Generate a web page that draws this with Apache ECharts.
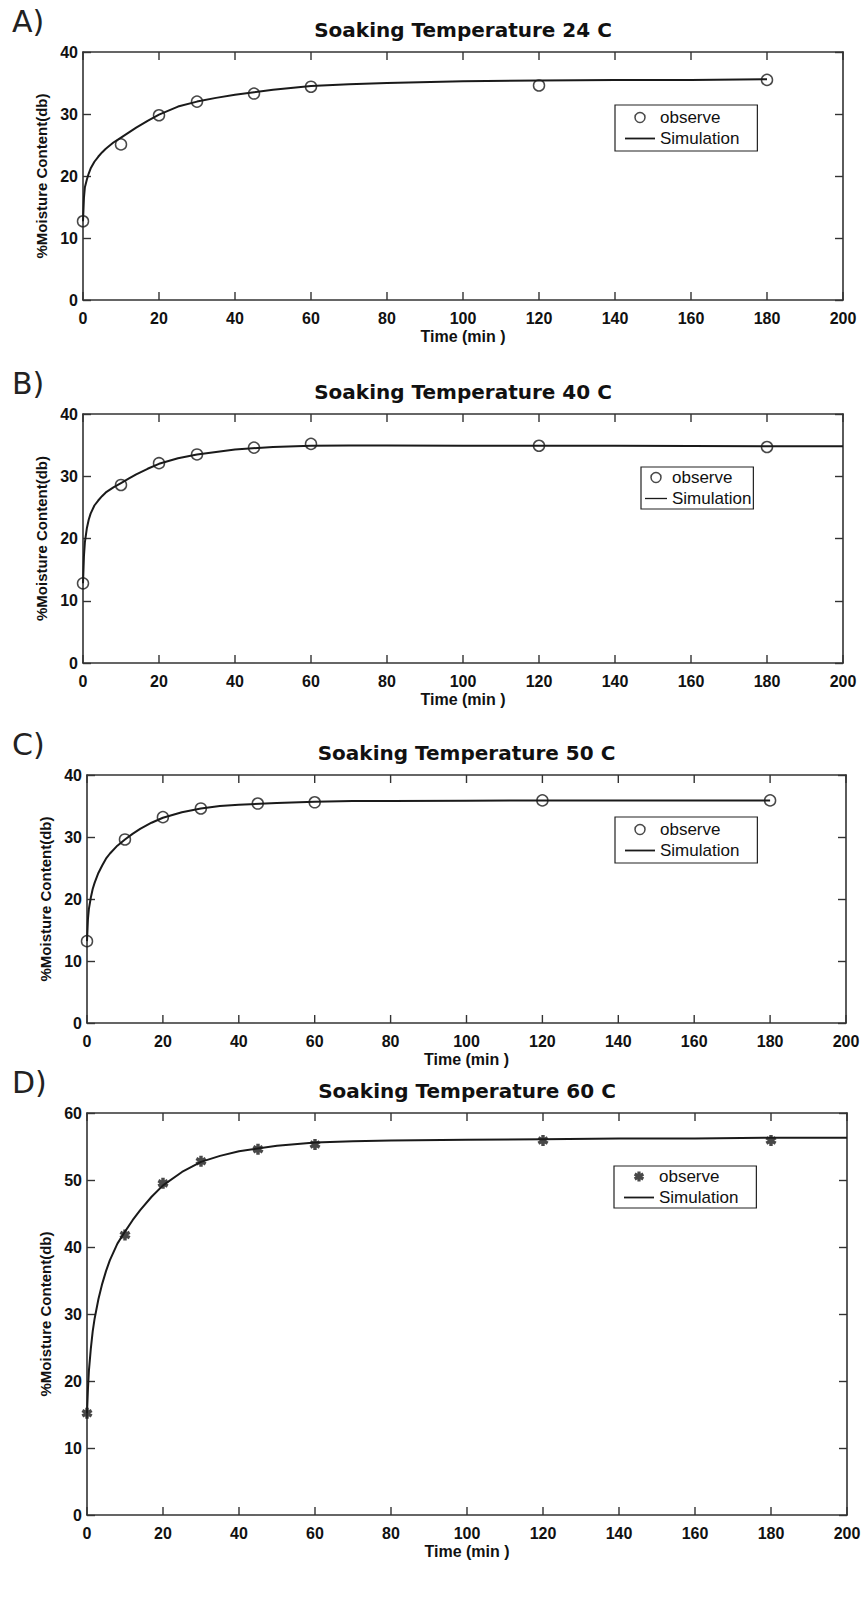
<!DOCTYPE html>
<html>
<head>
<meta charset="utf-8">
<title>Soaking Temperature</title>
<script src="https://cdn.jsdelivr.net/npm/echarts@6/dist/echarts.min.js"></script>
<style>
  html, body { margin: 0; padding: 0; background: #fff; }
  #main { width: 865px; height: 1623px; }
</style>
</head>
<body>
<div id="main"></div>
<script>
// observed points (same sampling times for all four panels)
var timeObs = [0, 10, 20, 30, 45, 60, 120, 180];
var obsA = [12.7, 25.1, 29.8, 32.0, 33.3, 34.4, 34.6, 35.5];
var obsB = [12.8, 28.6, 32.1, 33.5, 34.6, 35.2, 34.9, 34.7];
var obsC = [13.2, 29.6, 33.2, 34.6, 35.4, 35.6, 35.9, 35.9];
var obsD = [15.2, 41.8, 49.5, 52.8, 54.6, 55.3, 55.9, 55.9];

// simulation curves
var simTimeA = [0, 0.25, 0.5, 1, 1.5, 2, 3, 4, 5, 6, 8, 10, 12, 14, 17, 20, 25, 30, 35, 40, 50, 60, 70, 80, 100, 120, 140, 160, 180];
var simA = [12.7, 16.5, 18.2, 19.4, 20.4, 21.2, 22.3, 23.1, 23.8, 24.4, 25.4, 26.2, 27.0, 27.8, 28.9, 29.9, 31.2, 32.0, 32.6, 33.1, 33.9, 34.5, 34.8, 35.0, 35.3, 35.4, 35.5, 35.5, 35.6];
var simTimeB = [0, 0.25, 0.5, 1, 1.5, 2, 3, 4, 5, 6, 8, 10, 12, 14, 17, 20, 25, 30, 35, 40, 50, 60, 70, 80, 100, 120, 140, 160, 180, 200];
var simB = [12.8, 17.2, 19.4, 21.6, 23.0, 24.0, 25.3, 26.1, 26.8, 27.4, 28.2, 28.9, 29.6, 30.3, 31.2, 32.0, 32.9, 33.5, 33.9, 34.3, 34.7, 34.9, 34.95, 34.95, 34.9, 34.9, 34.9, 34.85, 34.8, 34.8];
var simTimeC = [0, 0.25, 0.5, 1, 1.5, 2, 3, 4, 5, 6, 8, 10, 12, 14, 17, 20, 25, 30, 35, 40, 50, 60, 70, 80, 100, 120, 140, 160, 180];
var simC = [13.2, 16.8, 18.4, 20.2, 21.6, 22.6, 24.2, 25.4, 26.5, 27.3, 28.6, 29.6, 30.5, 31.3, 32.3, 33.1, 34.0, 34.6, 35.0, 35.2, 35.5, 35.7, 35.8, 35.8, 35.85, 35.9, 35.9, 35.9, 35.9];
var simTimeD = [0, 0.25, 0.5, 1, 1.5, 2, 3, 4, 5, 6, 8, 10, 12, 14, 17, 20, 25, 30, 35, 40, 50, 60, 70, 80, 100, 120, 140, 160, 180, 200];
var simD = [15.2, 18.8, 21.5, 24.8, 27.4, 29.3, 32.2, 34.5, 36.4, 38.0, 40.5, 42.3, 44.0, 45.5, 47.5, 49.2, 51.2, 52.7, 53.6, 54.3, 55.1, 55.6, 55.8, 55.9, 56.0, 56.1, 56.2, 56.2, 56.3, 56.3];

var xTicks = [0, 20, 40, 60, 80, 100, 120, 140, 160, 180, 200];
var titles = ['Soaking Temperature 24 C', 'Soaking Temperature 40 C', 'Soaking Temperature 50 C', 'Soaking Temperature 60 C'];
var panelTags = ['A)', 'B)', 'C)', 'D)'];
var yMax = [40, 40, 40, 60];

var FONT = "'Liberation Sans', Arial, sans-serif";
var INK = '#1a1a1a';
var FRAME = '#333';
var STAR = 'path://M-1.6,-5L-1.6,5L1.6,5L1.6,-5ZM-5.13,-1.11L3.53,3.89L5.13,1.11L-3.53,-3.89ZM3.53,-3.89L-5.13,1.11L-3.53,3.89L5.13,-1.11Z';
var LINE_ICON = 'path://M0,0L30,0L30,1.8L0,1.8Z';

// plot boxes
var grids = [
    {left: 83, top: 52, width: 760, height: 248},
    {left: 83, top: 414, width: 760, height: 249},
    {left: 87, top: 775, width: 759, height: 248},
    {left: 87, top: 1113, width: 760, height: 402}
];
var legendBox = [
    {left: 615, top: 105, padding: [4, 18, 4, 10], iconW: 30},
    {left: 641, top: 467, padding: [2, 2, 2, 4], iconW: 22},
    {left: 615, top: 817, padding: [4, 18, 4, 10], iconW: 30},
    {left: 614, top: 1166, padding: [2, 18, 2, 10], iconW: 30}
];

function pairs(xs, ys) {
    var out = [];
    for (var i = 0; i < xs.length; i++) out.push([xs[i], ys[i]]);
    return out;
}

function frameLine() {
    return {show: true, onZero: false, lineStyle: {color: FRAME, width: 1.6}};
}
function frameTick(show) {
    return {show: show, inside: true, length: 8, lineStyle: {color: FRAME, width: 1.4}};
}
function tickLabel(margin) {
    return {show: true, margin: margin, fontFamily: FONT, fontSize: 16, fontWeight: 'bold', color: '#111'};
}

// inward ticks on the bottom and top edges, placed through the axis scale
function xTickRenderer(top) {
    return function (params, api) {
        var v = api.value(0);
        var lo = api.coord([v, 0]);
        var hi = api.coord([v, top]);
        return {
            type: 'group',
            children: [
                {type: 'line', shape: {x1: lo[0], y1: lo[1], x2: lo[0], y2: lo[1] - 8}, style: {stroke: FRAME, lineWidth: 1.4}},
                {type: 'line', shape: {x1: hi[0], y1: hi[1], x2: hi[0], y2: hi[1] + 8}, style: {stroke: FRAME, lineWidth: 1.4}}
            ]
        };
    };
}

var xAxes = [], yAxes = [];
for (var i = 0; i < 4; i++) {
    xAxes.push({
        type: 'value', gridIndex: i, position: 'bottom',
        min: 0, max: 200, interval: 20,
        name: 'Time (min )', nameLocation: 'middle', nameGap: 28,
        nameTextStyle: {fontFamily: FONT, fontSize: 16, fontWeight: 'bold', color: '#111'},
        axisLine: frameLine(), axisTick: frameTick(false),
        axisLabel: tickLabel(10),
        splitLine: {show: false}
    });
    yAxes.push({
        type: 'value', gridIndex: i, position: 'left',
        min: 0, max: yMax[i], interval: 10,
        name: '%Moisture Content(db)', nameLocation: 'middle', nameGap: 31,
        nameTextStyle: {fontFamily: FONT, fontSize: 15, fontWeight: 'bold', color: '#111'},
        axisLine: frameLine(), axisTick: frameTick(true),
        axisLabel: tickLabel(5),
        splitLine: {show: false}
    });
}
// top and right frame
for (var i = 0; i < 4; i++) {
    xAxes.push({
        type: 'value', gridIndex: i, position: 'top',
        min: 0, max: 200, interval: 20,
        axisLine: frameLine(), axisTick: frameTick(false),
        axisLabel: {show: false}, splitLine: {show: false}
    });
    yAxes.push({
        type: 'value', gridIndex: i, position: 'right',
        min: 0, max: yMax[i], interval: 10,
        axisLine: frameLine(), axisTick: frameTick(true),
        axisLabel: {show: false}, splitLine: {show: false}
    });
}

var simTimes = [simTimeA, simTimeB, simTimeC, simTimeD];
var sims = [simA, simB, simC, simD];
var obs = [obsA, obsB, obsC, obsD];

var series = [];
for (var i = 0; i < 4; i++) {
    series.push({
        name: 'xticks', type: 'custom',
        xAxisIndex: i, yAxisIndex: i,
        data: xTicks.map(function (v) { return [v, 0]; }),
        encode: {x: 0, y: 1},
        renderItem: xTickRenderer(yMax[i]),
        clip: false, silent: true, z: 1
    });
    series.push({
        name: 'Simulation', type: 'line',
        xAxisIndex: i, yAxisIndex: i,
        data: pairs(simTimes[i], sims[i]),
        symbol: 'none', showSymbol: false, smooth: false,
        lineStyle: {color: INK, width: 2},
        itemStyle: {color: INK},
        z: 2, silent: true
    });
    series.push({
        name: 'observe', type: 'scatter',
        xAxisIndex: i, yAxisIndex: i,
        data: pairs(timeObs, obs[i]),
        symbol: i < 3 ? 'circle' : STAR,
        symbolSize: 11,
        itemStyle: i < 3
            ? {color: 'transparent', borderColor: INK, borderWidth: 1.5}
            : {color: INK},
        z: 3, silent: true
    });
}

var legends = [];
for (var i = 0; i < 4; i++) {
    var obsItem = i < 3
        ? {name: 'observe', icon: 'circle', itemStyle: {color: 'transparent', borderColor: INK, borderWidth: 1.5}}
        : {name: 'observe', icon: STAR, itemStyle: {color: INK, borderWidth: 0}};
    legends.push({
        left: legendBox[i].left, top: legendBox[i].top,
        orient: 'vertical',
        data: [obsItem, {name: 'Simulation', icon: LINE_ICON, itemStyle: {color: INK, borderWidth: 0}}],
        itemWidth: legendBox[i].iconW, itemHeight: 10, itemGap: 4,
        padding: legendBox[i].padding,
        borderColor: '#222', borderWidth: 1.2, backgroundColor: '#fff',
        selectedMode: false,
        textStyle: {fontFamily: FONT, fontSize: 17, color: '#111'}
    });
}

// titles and panel letters
var graphics = [];
for (var i = 0; i < 4; i++) {
    var g = grids[i];
    graphics.push({
        type: 'text',
        x: g.left + g.width / 2, y: g.top - 22,
        style: {
            text: titles[i], align: 'center', verticalAlign: 'middle',
            font: "bold 20px 'DejaVu Sans', Verdana, sans-serif", fill: '#111'
        }
    });
    graphics.push({
        type: 'text',
        x: 12, y: g.top - 31,
        style: {
            text: panelTags[i], align: 'left', verticalAlign: 'middle',
            font: "30px 'DejaVu Sans', Verdana, sans-serif", fill: '#222'
        }
    });
}

var dom = document.getElementById('main');
var myChart = echarts.init(dom, null, {renderer: 'svg'});
var option = {
    backgroundColor: '#fff',
    animation: false,
    grid: grids,
    xAxis: xAxes,
    yAxis: yAxes,
    legend: legends,
    series: series,
    graphic: graphics
};
myChart.setOption(option, true);
</script>
</body>
</html>
